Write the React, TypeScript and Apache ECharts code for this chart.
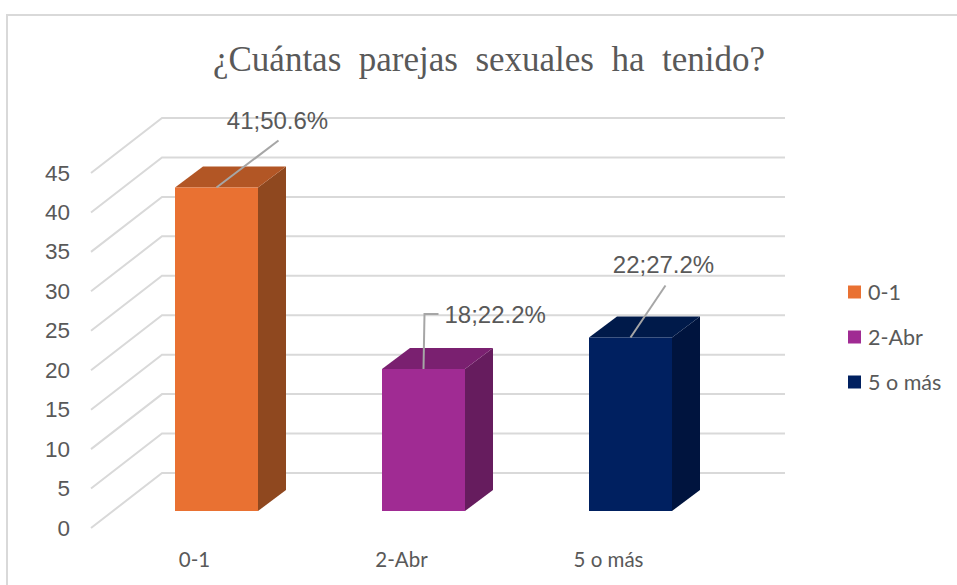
import React, { useEffect, useRef } from "react";
import * as echarts from "echarts";

const titleText = "¿Cuántas  parejas  sexuales  ha  tenido?";
const categories = ["0-1", "2-Abr", "5 o más"];
const counts = [41, 18, 22];
const shares = ["50.6%", "22.2%", "27.2%"];
const yTicks = [0, 5, 10, 15, 20, 25, 30, 35, 40, 45];
const frontColors = ["#E97132", "#A02B93", "#002060"];
const topColors = ["#B25625", "#7A2070", "#001A4A"];
const sideColors = ["#8F481F", "#661C5E", "#00143E"];

const DEPTH_X = 71;
const DEPTH_Y = 55;
const BAR_OFFSET_X = 22;
const BAR_OFFSET_Y = 17;
const BAR_W = 83;
const BAR_DX = 28;
const BAR_DY = 21;
const leaders = [
  { pts: [[0, 0], [62, -47]], tx: 61, ty: -67, align: "center" },
  { pts: [[0, 0], [1, -55], [15, -55]], tx: 21, ty: -55, align: "left" },
  { pts: [[0, 0], [35, -52]], tx: 33, ty: -73, align: "center" },
];

const wallItem = (params: any, api: any) => {
  const c = params.coordSys;
  const y = api.coord([0, api.value(1)])[1];
  const backY = y - DEPTH_Y;
  return {
    type: "polyline",
    shape: { points: [[c.x, y], [c.x + DEPTH_X, backY], [c.x + c.width + DEPTH_X + 2, backY]] },
    style: { stroke: "#D9D9D9", lineWidth: 2, fill: "none" },
  };
};

const barItem = (i: number) => (_params: any, api: any) => {
  const top = api.coord([i, api.value(1)]);
  const base = api.coord([i, 0]);
  const l = top[0] + BAR_OFFSET_X - BAR_W / 2;
  const r = l + BAR_W;
  const t = top[1] - BAR_OFFSET_Y;
  const b = base[1] - BAR_OFFSET_Y;
  const ax = l + BAR_W / 2;
  const lead = leaders[i];
  return {
    type: "group",
    children: [
      { type: "polygon", shape: { points: [[r, t], [r + BAR_DX, t - BAR_DY], [r + BAR_DX, b - BAR_DY], [r, b]] }, style: { fill: sideColors[i] } },
      { type: "polygon", shape: { points: [[l, t], [l + BAR_DX, t - BAR_DY], [r + BAR_DX, t - BAR_DY], [r, t]] }, style: { fill: topColors[i] } },
      { type: "rect", shape: { x: l, y: t, width: BAR_W, height: b - t }, style: { fill: frontColors[i] } },
      { type: "polyline", shape: { points: lead.pts.map((p) => [ax + p[0], t + p[1]]) }, style: { stroke: "#A6A6A6", lineWidth: 2, fill: "none" } },
      {
        type: "text",
        style: {
          text: `${counts[i]};${shares[i]}`,
          x: ax + lead.tx,
          y: t + lead.ty,
          align: lead.align,
          verticalAlign: "middle",
          fill: "#595959",
          font: '24px "Liberation Sans"',
        },
      },
    ],
  };
};

export default function App() {
  const ref = useRef<HTMLDivElement>(null);
  useEffect(() => {
    document.body.style.margin = "0";
    const chart = echarts.init(ref.current!, undefined, { renderer: "svg" });
    chart.setOption({
      animation: false,
      backgroundColor: "#FFFFFF",
      title: {
        text: titleText,
        left: 484,
        top: 37,
        textAlign: "center",
        textStyle: { fontFamily: "Liberation Serif", fontSize: 35, fontWeight: "normal", color: "#595959" },
      },
      graphic: [
        {
          type: "polyline",
          shape: { points: [[7, 585], [7, 15], [957, 15]] },
          style: { stroke: "#D9D9D9", lineWidth: 2, fill: "none" },
        },
      ],
      legend: {
        data: categories,
        orient: "vertical",
        left: 843,
        top: 276,
        itemWidth: 13,
        itemHeight: 13,
        itemGap: 23,
        icon: "rect",
        selectedMode: false,
        textStyle: { fontFamily: "Lato", fontSize: 21.5, color: "#595959", padding: [0, 0, 0, 2] },
      },
      grid: { left: 91, top: 173, width: 621, height: 355 },
      xAxis: {
        type: "category",
        data: categories,
        axisLine: { show: false },
        axisTick: { show: false },
        axisLabel: { fontFamily: "Lato", fontSize: 20.5, color: "#595959", margin: 20 },
      },
      yAxis: {
        type: "value",
        min: 0,
        max: 45,
        interval: 5,
        axisLine: { show: false },
        axisTick: { show: false },
        splitLine: { show: false },
        axisLabel: { fontFamily: "Liberation Sans", fontSize: 22.5, color: "#595959", margin: 21 },
      },
      series: [
        { type: "custom", name: "wall", silent: true, clip: false, renderItem: wallItem, data: yTicks.map((v) => [0, v]) },
        ...categories.map((name, i) => ({
          type: "custom",
          name,
          clip: false,
          itemStyle: { color: frontColors[i] },
          renderItem: barItem(i),
          data: [[i, counts[i]]],
        })),
      ],
    });
    return () => chart.dispose();
  }, []);
  return <div ref={ref} style={{ width: 957, height: 585 }} />;
}
